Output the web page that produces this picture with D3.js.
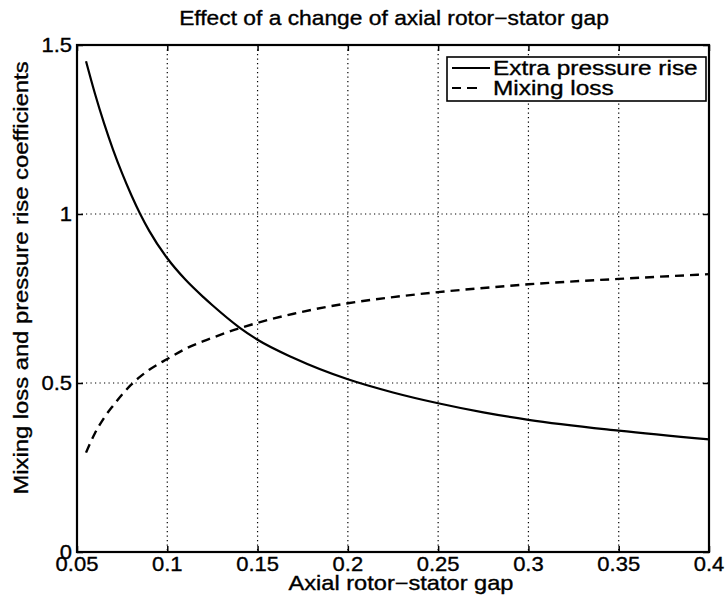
<!DOCTYPE html>
<html><head><meta charset="utf-8">
<script src="https://cdn.jsdelivr.net/npm/d3@7"></script>
<style>
html,body{margin:0;padding:0;background:#fff;}
svg{display:block;}
text{font-family:"Liberation Sans",Arial,Helvetica,sans-serif;fill:#000;stroke:#000;stroke-width:0.35px;}
</style></head>
<body>
<svg id="chart" width="726" height="595"></svg>
<script>
// ---- data ----
const gapX = [0.055, 0.06, 0.065, 0.07, 0.075, 0.08, 0.085, 0.09, 0.1, 0.11, 0.12, 0.125, 0.14, 0.15, 0.17, 0.2, 0.225, 0.25, 0.275, 0.3, 0.35, 0.4];
const pressureRise = [1.452, 1.355, 1.268, 1.19, 1.12, 1.057, 1.0, 0.95, 0.869, 0.806, 0.754, 0.73, 0.664, 0.628, 0.574, 0.511, 0.472, 0.44, 0.413, 0.391, 0.359, 0.333];
const mixingLoss = [0.294, 0.352, 0.397, 0.433, 0.466, 0.495, 0.519, 0.539, 0.571, 0.601, 0.624, 0.634, 0.662, 0.678, 0.705, 0.736, 0.754, 0.769, 0.781, 0.792, 0.808, 0.822];
const xTicks = [0.05, 0.1, 0.15, 0.2, 0.25, 0.3, 0.35, 0.4];
const xTickLabels = ["0.05", "0.1", "0.15", "0.2", "0.25", "0.3", "0.35", "0.4"];
const yTicks = [0, 0.5, 1, 1.5];
const yTickLabels = ["0", "0.5", "1", "1.5"];
const seriesNames = ["Extra pressure rise", "Mixing loss"];
const titleText = "Effect of a change of axial rotor\u2212stator gap";
const xLabel = "Axial rotor\u2212stator gap";
const yLabel = "Mixing loss and pressure rise coefficients";

// ---- layout ----
const L = 77, R = 709, T = 45, B = 552;
const FS = 20;
const svg = d3.select("#chart");
const x = d3.scaleLinear().domain([0.05, 0.4]).range([L, R]);
const y = d3.scaleLinear().domain([0, 1.5]).range([B, T]);

// stretched text helper (reference glyphs are wider than Liberation Sans)
function label(px, py, str, anchor, sx, rot) {
  const g = svg.append("g").attr("transform", `translate(${px},${py})` + (rot ? ` rotate(${rot})` : "") + ` scale(${sx},1)`);
  g.append("text").attr("text-anchor", anchor).attr("font-size", FS).text(str);
  return g;
}

// grid
const grid = svg.append("g").attr("stroke", "#000").attr("stroke-width", 1.2).attr("stroke-dasharray", "1.2,3.3");
grid.selectAll("line.gx").data(xTicks.slice(1, -1)).join("line").attr("class", "gx")
  .attr("x1", d => x(d)).attr("x2", d => x(d)).attr("y1", T).attr("y2", B);
grid.selectAll("line.gy").data(yTicks.slice(1, -1)).join("line").attr("class", "gy")
  .attr("y1", d => y(d)).attr("y2", d => y(d)).attr("x1", L).attr("x2", R);

// axes: inner ticks on all four sides, labels drawn separately (stretched)
const axB = svg.append("g").attr("transform", `translate(0,${B})`)
  .call(d3.axisBottom(x).tickValues(xTicks).tickFormat("").tickSizeInner(-6).tickSizeOuter(0));
const axT = svg.append("g").attr("transform", `translate(0,${T})`)
  .call(d3.axisTop(x).tickValues(xTicks).tickFormat("").tickSizeInner(-6).tickSizeOuter(0));
const axL = svg.append("g").attr("transform", `translate(${L},0)`)
  .call(d3.axisLeft(y).tickValues(yTicks).tickFormat("").tickSizeInner(-6).tickSizeOuter(0));
const axR = svg.append("g").attr("transform", `translate(${R},0)`)
  .call(d3.axisRight(y).tickValues(yTicks).tickFormat("").tickSizeInner(-6).tickSizeOuter(0));
[axB, axT, axL, axR].forEach(a => {
  a.select(".domain").remove();
  a.selectAll(".tick line").attr("stroke", "#000").attr("stroke-width", 1.5);
  a.selectAll(".tick text").remove();
});
xTicks.forEach((v, i) => label(x(v), B + 19, xTickLabels[i], "middle", 1.1));
yTicks.forEach((v, i) => label(L - 5, y(v) + 7, yTickLabels[i], "end", 1.1));

// box
svg.append("rect").attr("x", L).attr("y", T).attr("width", R - L).attr("height", B - T)
  .attr("fill", "none").attr("stroke", "#000").attr("stroke-width", 2.2);

// curves
const line = d3.line().x((d, i) => x(gapX[i])).y(d => y(d)).curve(d3.curveMonotoneX);
svg.append("path").datum(pressureRise).attr("d", line)
  .attr("fill", "none").attr("stroke", "#000").attr("stroke-width", 2.2);
svg.append("path").datum(mixingLoss).attr("d", line)
  .attr("fill", "none").attr("stroke", "#000").attr("stroke-width", 2.4).attr("stroke-dasharray", "9,6");

// legend
svg.append("rect").attr("x", 447).attr("y", 57).attr("width", 259).attr("height", 44)
  .attr("fill", "#fff").attr("stroke", "#000").attr("stroke-width", 1.6);
const dash = [null, "9,6,10,20"];
seriesNames.forEach((name, i) => {
  const yy = 68 + i * 20;
  svg.append("line").attr("x1", 452).attr("x2", 490).attr("y1", yy).attr("y2", yy)
    .attr("stroke", "#000").attr("stroke-width", 2).attr("stroke-dasharray", dash[i]);
  label(493, yy + 7, name, "start", 1.22);
});

// titles
label(394, 25, titleText, "middle", 1.14);
label(401, 590, xLabel, "middle", 1.18);
label(28, 278, yLabel, "middle", 1.19, -90);
</script>
</body></html>
